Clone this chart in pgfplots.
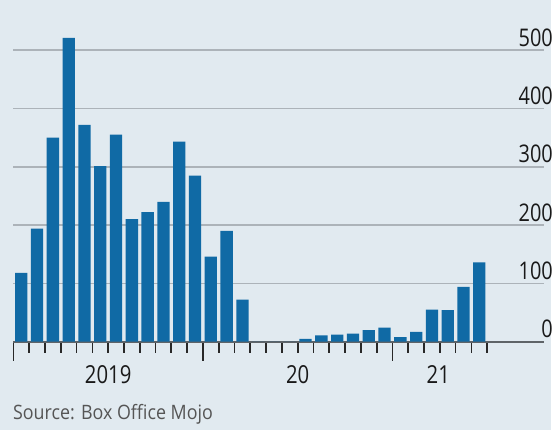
\documentclass[border=0pt]{standalone}
\usepackage{fontspec}
\setmainfont{Open Sans}[FakeStretch=0.9]
\newfontfamily\numfont{Open Sans}[FakeStretch=0.82]
\usepackage{pgfplots}
\pgfplotsset{compat=1.18}
\definecolor{bgc}{RGB}{225,234,240}
\definecolor{barc}{RGB}{16,106,165}
\definecolor{gridc}{RGB}{172,179,185}
\definecolor{basec}{RGB}{95,100,104}
\definecolor{tickc}{RGB}{40,40,40}
\definecolor{textc}{RGB}{25,25,25}
\definecolor{srcc}{RGB}{85,85,85}
\pgfplotstableread{
m v
0 118
1 194
2 350
3 521
4 372
5 301
6 355
7 210
8 222
9 240
10 343
11 285
12 146
13 190
14 72
15 0
16 0
17 0
18 5
19 11
20 12
21 14
22 20
23 24
24 8
25 17
26 55
27 54
28 94
29 136
}\boxdata
\begin{document}
\begin{tikzpicture}[x=1pt,y=1pt]
\fill[bgc] (0,0) rectangle (555,433);
\begin{axis}[
  at={(13.5pt,88.5pt)}, anchor=south west,
  scale only axis, width=535pt, height=317.5pt,
  xmin=-0.5, xmax=33.1, ymin=0, ymax=540,
  clip=false,
  axis x line*=bottom, axis y line*=right,
  x axis line style={draw=basec, line width=1.6pt},
  y axis line style={draw=none},
  ytick={0,100,...,500},
  ymajorgrids, grid style={draw=gridc, line width=1.5pt},
  y tick style={draw=none},
  /pgf/number format/assume math mode=true,
  yticklabel style={font=\numfont\fontsize{24.5}{26}\selectfont, text=textc, anchor=base east, inner sep=0pt, xshift=-2pt, yshift=4pt},
  xtick={-0.5,0.5,...,29.5}, xticklabels={},
  minor xtick={-0.5,11.5,23.5},
  tick align=outside,
  major tick length=11pt, minor tick length=19pt,
  x tick style={draw=tickc, line width=1.7pt},
  minor x tick style={draw=tickc, line width=1.7pt},
]
\addplot[ybar, bar width=12.4pt, fill=barc, draw=none] table[x=m,y=v]{\boxdata};
\node[font=\numfont\fontsize{25}{26}\selectfont, text=textc, anchor=base, inner sep=0pt] at (axis cs:5.5,0) [yshift=-42pt] {2019};
\node[font=\numfont\fontsize{25}{26}\selectfont, text=textc, anchor=base, inner sep=0pt] at (axis cs:17.5,0) [yshift=-42pt] {20};
\node[font=\numfont\fontsize{25}{26}\selectfont, text=textc, anchor=base, inner sep=0pt] at (axis cs:26.4,0) [yshift=-42pt] {21};
\end{axis}
\node[anchor=base west, inner sep=0pt, font=\fontsize{20}{22}\selectfont, text=srcc] at (13,10) {Source: Box Office Mojo};
\end{tikzpicture}
\end{document}
